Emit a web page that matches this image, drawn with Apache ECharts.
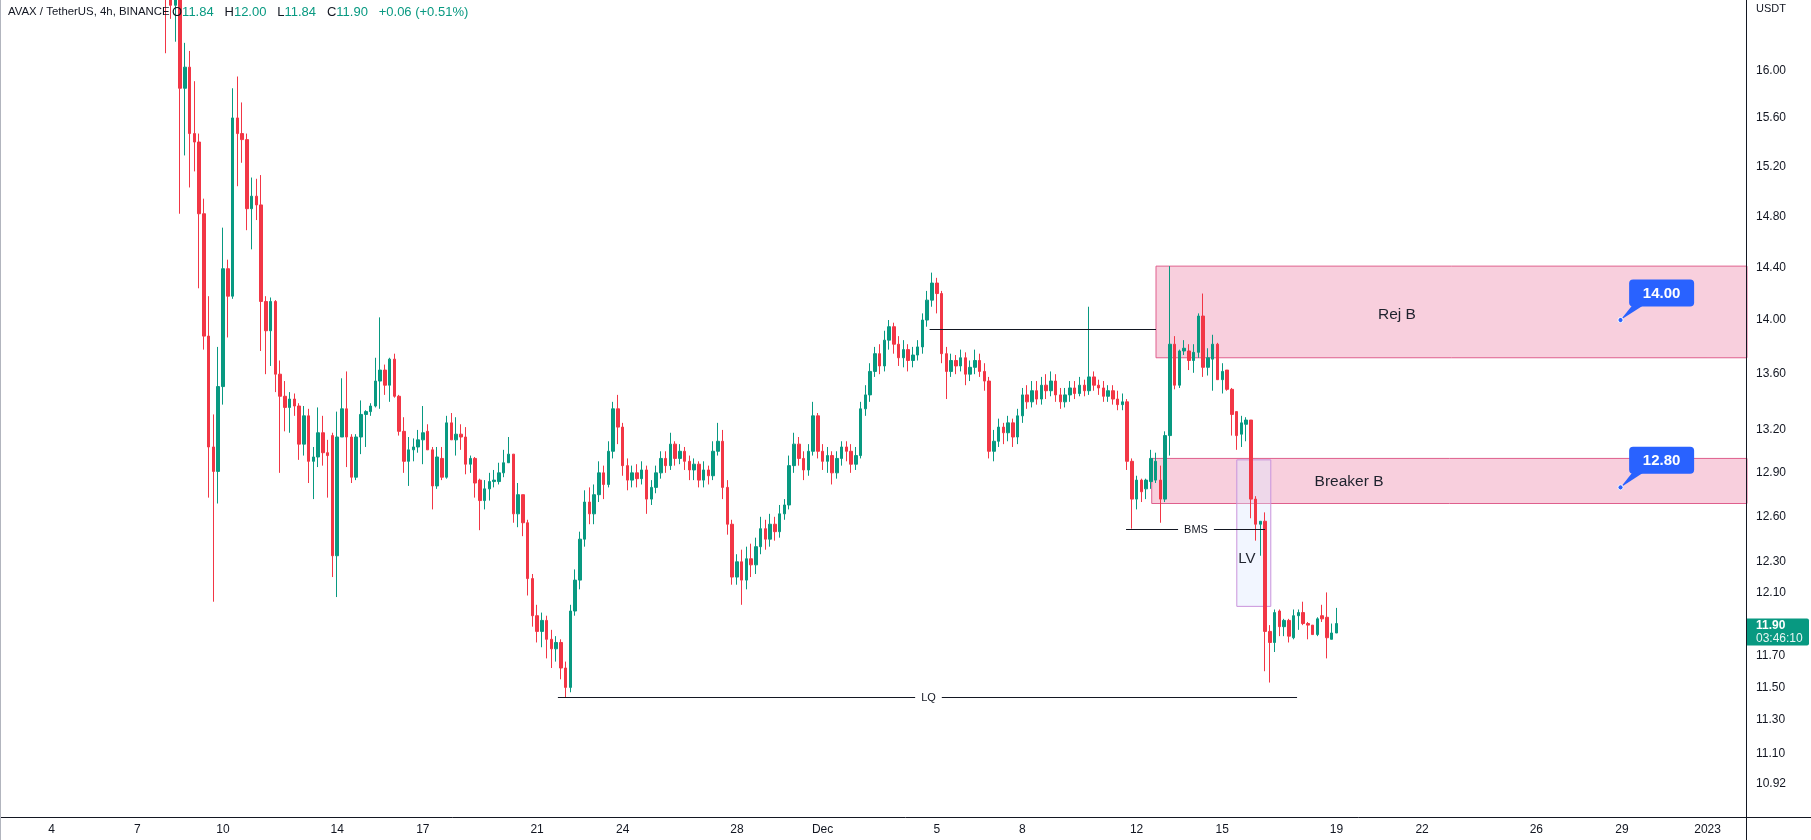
<!DOCTYPE html>
<html><head><meta charset="utf-8">
<script src="https://cdn.jsdelivr.net/npm/echarts@6/dist/echarts.min.js"></script>
<style>html,body{margin:0;padding:0;background:#fff}#c{width:1811px;height:840px}</style>
</head><body><div id="c"></div>
<script>
// ---------------- DATA ----------------
// time in days since Nov 1 2022 00:00; 4h candles
const firstBarDay = 7;            // Nov 8 00:00
const barStepDays = 1 / 6;        // 4 hours
const viewStartDay = 1.1891;
const viewEndDay = 62.38;
const viewLowPrice = 10.729;
const viewHighPrice = 16.617;

const opens = [
 17.30,16.75,16.57,16.80,15.85,16.03, 15.47,15.40,14.82,13.88,13.08,12.91, 13.51,14.39,14.18,15.60,15.47,15.42,
 14.86,14.96,14.89,14.14,13.92,14.14, 13.60,13.44,13.36,13.42,13.37,13.10, 13.30,12.98,13.01,13.18,13.04,13.16,
 12.34,13.15,13.35,13.15,12.87,13.15, 13.31,13.33,13.37,13.55,13.63,13.52, 13.71,13.44,13.19,12.98,13.06,13.08,
 13.13,13.19,13.06,12.81,13.00,12.87, 13.25,13.13,13.17,13.15,12.96,13.00, 12.85,12.71,12.79,12.84,12.84,12.90,
 12.97,13.03,12.62,12.75,12.56,
 12.19,11.95,11.85,11.92,11.80,11.74,11.78,11.62,11.50,11.98, 12.18,12.45,12.70,12.62,12.75,12.90,12.82,13.05,13.35,13.22,
 12.95,12.85,12.90,12.86,12.92,12.72,12.80,12.90,13.00,12.95, 13.10,13.00,13.05,12.98,12.92,12.96,12.85,12.92,12.88,13.05,
 13.12,12.80,12.55,12.20,12.30,12.18,12.32,12.28,12.40,12.52, 12.45,12.55,12.50,12.62,12.68,12.95,13.10,13.00,12.92,13.05,
 13.30,13.05,12.98,13.02,12.90,13.00,13.08,13.05,12.96,13.02, 13.35,13.45,13.62,13.75,13.66,13.85,13.95,13.82,13.72,13.78,
 13.70,13.74,13.80,14.00,14.15,14.28,14.20,13.75,13.62,13.70, 13.66,13.72,13.60,13.65,13.70,13.62,13.55,13.05,13.12,13.22,
 13.18,13.25,13.15,13.30,13.45,13.40,13.48,13.42,13.52,13.48, 13.55,13.45,13.40,13.45,13.50,13.46,13.52,13.48,13.58,13.52,
 13.50,13.44,13.48,13.42,13.38,13.40,12.98,12.72,
 12.85,12.79,12.84,12.85,12.85,12.72,13.16,13.82,13.52,13.77, 13.77,13.70,13.76,14.03,13.65,13.71,13.82,13.56,13.63,13.49,
 13.33,13.17,13.24,13.27,12.72,12.55,12.57,11.85,11.78,11.98, 11.88,11.92,11.81,11.95,11.97,11.90,11.89,11.83,11.95,11.94,
 11.80,11.84
];
const highs = [
 17.60,16.90,16.95,16.95,16.24,16.17, 15.91,15.47,14.94,14.18,13.31,13.80, 14.71,14.46,15.85,15.95,15.73,15.47,
 15.11,15.10,15.13,14.18,14.17,14.15, 13.70,13.55,13.47,13.46,13.39,13.37, 13.35,13.08,13.36,13.30,13.13,13.18,
 13.33,13.57,13.62,13.17,13.17,13.41, 13.34,13.39,13.72,14.02,13.67,13.72, 13.75,13.45,13.29,13.15,13.14,13.20,
 13.37,13.24,13.08,13.08,13.08,13.30, 13.32,13.29,13.24,13.22,13.02,13.01, 12.86,12.85,12.90,12.92,12.97,13.06,
 13.15,13.03,12.83,12.75,12.58,
 12.22,12.02,11.97,11.95,11.86,11.82,11.80,11.66,12.02,12.25, 12.50,12.78,12.80,12.82,12.98,12.95,13.12,13.40,13.45,13.25,
 13.00,12.95,12.96,12.98,12.95,12.85,12.95,13.05,13.05,13.18, 13.12,13.10,13.08,13.02,13.00,12.98,12.98,12.95,13.12,13.25,
 13.20,12.85,12.58,12.35,12.38,12.40,12.42,12.46,12.60,12.58, 12.62,12.60,12.68,12.72,13.02,13.18,13.15,13.05,13.10,13.40,
 13.32,13.10,13.08,13.05,13.05,13.12,13.12,13.10,13.08,13.40, 13.52,13.68,13.80,13.82,13.92,14.00,13.98,13.88,13.85,13.82,
 13.80,13.85,14.05,14.22,14.36,14.32,14.22,13.80,13.75,13.74, 13.78,13.76,13.70,13.78,13.75,13.68,13.58,13.20,13.28,13.25,
 13.30,13.28,13.35,13.50,13.52,13.55,13.55,13.58,13.60,13.62, 13.60,13.50,13.50,13.55,13.55,13.58,13.56,14.10,13.62,13.56,
 13.55,13.52,13.52,13.48,13.46,13.42,13.00,12.88,
 12.86,12.86,13.06,13.04,12.95,13.19,14.41,13.88,13.78,13.85, 13.82,13.82,14.05,14.20,13.79,13.89,13.83,13.68,13.63,13.50,
 13.33,13.30,13.29,13.27,12.74,12.57,12.63,11.89,11.99,11.99, 11.93,11.93,11.99,11.99,12.04,11.91,11.89,11.94,12.02,12.10,
 11.90,12.00
];
const lows = [
 16.15,16.45,16.25,14.82,15.29,15.03, 15.16,14.24,13.78,12.73,12.04,12.69, 13.38,13.87,14.16,15.04,15.23,14.69,
 14.54,14.77,13.77,13.60,13.66,13.47, 12.90,13.19,13.18,13.30,12.99,13.02, 12.83,12.72,12.94,12.95,12.73,12.20,
 12.07,13.15,12.94,12.83,12.85,13.03, 13.08,13.30,13.36,13.35,13.45,13.40, 13.43,13.16,12.90,12.81,12.98,13.04,
 12.96,13.06,12.65,12.79,12.85,12.86, 13.13,13.02,13.06,12.89,12.90,12.73, 12.51,12.65,12.71,12.80,12.82,12.87,
 12.97,12.56,12.53,12.47,12.08,
 11.88,11.78,11.75,11.68,11.62,11.66,11.55,11.44,11.47,11.95, 12.12,12.40,12.55,12.55,12.70,12.72,12.80,13.00,13.10,12.88,
 12.78,12.80,12.80,12.82,12.62,12.68,12.76,12.86,12.90,12.92, 12.95,12.96,12.92,12.85,12.85,12.80,12.80,12.82,12.85,13.02,
 12.72,12.48,12.15,12.15,12.02,12.12,12.20,12.22,12.35,12.38, 12.40,12.44,12.46,12.58,12.65,12.90,12.95,12.85,12.88,13.02,
 13.00,12.92,12.90,12.82,12.86,12.95,12.98,12.90,12.92,13.00, 13.30,13.40,13.58,13.60,13.62,13.78,13.75,13.66,13.65,13.62,
 13.65,13.70,13.75,13.95,14.10,14.05,13.68,13.42,13.58,13.60, 13.62,13.52,13.55,13.60,13.58,13.48,13.00,12.98,13.08,13.10,
 13.12,13.08,13.10,13.25,13.35,13.36,13.38,13.38,13.42,13.44, 13.40,13.35,13.36,13.40,13.42,13.44,13.44,13.45,13.48,13.45,
 13.40,13.40,13.38,13.34,13.34,12.92,12.52,12.65,
 12.70,12.72,12.79,12.83,12.56,12.70,13.02,13.49,13.50,13.74, 13.63,13.61,13.72,13.58,13.59,13.48,13.56,13.46,13.48,13.16,
 13.06,13.08,13.12,12.59,12.44,12.34,11.60,11.53,11.72,11.82, 11.82,11.78,11.80,11.86,11.89,11.80,11.83,11.82,11.91,11.68,
 11.80,11.84
];
const closes = [
 16.75,16.57,16.80,15.85,16.03,15.47, 15.40,14.82,13.88,13.08,12.91,13.51, 14.39,14.18,15.60,15.47,15.42,14.86,
 14.96,14.89,14.14,13.92,14.14,13.60, 13.44,13.36,13.42,13.37,13.10,13.30, 12.98,13.01,13.18,13.04,13.02,12.34,
 13.15,13.35,13.15,12.87,13.15,13.31, 13.33,13.37,13.55,13.63,13.52,13.71, 13.44,13.19,12.98,13.06,13.08,13.13,
 13.18,13.06,12.81,13.01,12.87,13.25, 13.13,13.17,13.15,12.96,13.00,12.83, 12.71,12.79,12.84,12.85,12.90,12.97,
 13.03,12.62,12.75,12.56,12.19,
 11.95,11.85,11.92,11.80,11.74,11.78,11.62,11.50,11.98,12.18, 12.45,12.70,12.62,12.75,12.90,12.82,13.05,13.35,13.22,12.95,
 12.85,12.90,12.86,12.92,12.72,12.80,12.90,13.00,12.95,13.10, 13.00,13.05,12.98,12.92,12.96,12.85,12.92,12.88,13.05,13.12,
 12.80,12.55,12.20,12.30,12.18,12.32,12.28,12.40,12.52,12.45, 12.55,12.50,12.62,12.68,12.95,13.10,13.00,12.92,13.05,13.30,
 13.05,12.98,13.02,12.90,13.00,13.08,13.05,12.96,13.02,13.35, 13.45,13.62,13.75,13.66,13.85,13.95,13.82,13.72,13.78,13.70,
 13.74,13.80,14.00,14.15,14.28,14.20,13.75,13.62,13.70,13.66, 13.72,13.60,13.65,13.70,13.62,13.55,13.05,13.12,13.22,13.18,
 13.25,13.15,13.30,13.45,13.40,13.48,13.42,13.52,13.48,13.55, 13.45,13.40,13.45,13.50,13.46,13.52,13.48,13.58,13.52,13.50,
 13.44,13.48,13.42,13.38,13.40,12.98,12.72,12.85,
 12.77,12.85,13.00,12.98,12.72,13.16,13.82,13.52,13.77,13.79, 13.70,13.76,14.03,13.65,13.72,13.82,13.56,13.62,13.49,13.31,
 13.16,13.25,13.27,12.72,12.55,12.57,11.85,11.78,11.97,11.88, 11.92,11.82,11.95,11.97,11.90,11.89,11.83,11.93,11.93,11.81,
 11.84,11.90
];

const priceTicks = [16.00,15.60,15.20,14.80,14.40,14.00,13.60,13.20,12.90,12.60,12.30,12.10,11.70,11.50,11.30,11.10,10.92];
const timeTickDays = [3,6,9,13,16,20,23,27,30,34,37,41,44,48,51,55,58,61];
const timeTickLabels = ['4','7','10','14','17','21','24','28','Dec','5','8','12','15','19','22','26','29','2023'];

// drawings (zones / levels)
const zoneNames   = ['Breaker B','Rej B','LV'];
const zoneFrom    = [41.53, 41.68, 44.51];
const zoneTo      = [62.38, 62.38, 45.70];
const zoneTop     = [13.00, 14.41, 12.99];
const zoneBottom  = [12.69, 13.72, 12.01];
const zoneLabelDay   = [48.44, 50.12, 44.86];
const zoneLabelPrice = [12.84, 14.04, 12.32];

const levelNames  = ['', 'BMS', 'LQ'];
const levelFrom   = [33.75, 40.63, 20.73];
const levelTo     = [41.68, 45.50, 46.62];
const levelPrice  = [13.93, 12.52, 11.44];
const levelLabelDay = [null, 43.08, 33.71];

const calloutDays   = [57.95, 57.95];
const calloutPrices = [14.00, 12.80];

const headerSymbol = 'AVAX / TetherUS, 4h, BINANCE';
const headerKeys   = ['O', 'H', 'L', 'C', ''];
const headerValues = ['11.84', '12.00', '11.84', '11.90', '+0.06 (+0.51%)'];
const countdown = '03:46:10';

// ---------------- CHART ----------------
const FONT = "'Liberation Sans', Arial, sans-serif";
const TXT = '#131722';
const UP = '#089981', DOWN = '#f23645';
const ln = Math.log;

const candles = opens.map((o, i) => [firstBarDay + i * barStepDays, ln(o), ln(closes[i]), ln(lows[i]), ln(highs[i])]);

const zoneStyles = [
  {color:'#f8cfdd', borderColor:'#df5f8d', borderWidth:1},
  {color:'#f8cfdd', borderColor:'#df5f8d', borderWidth:1},
  {color:'rgba(222,232,255,0.38)', borderColor:'#c993dc', borderWidth:1}
];
const zoneFontSizes = [15.5, 15.5, 15];

const chart = echarts.init(document.getElementById('c'));
const option = {
  animation:false,
  backgroundColor:'#ffffff',
  grid:{left:0, right:64, top:0, bottom:23},
  xAxis:{
    type:'value', min:viewStartDay, max:viewEndDay,
    axisLine:{show:false}, axisTick:{show:false}, splitLine:{show:false},
    axisLabel:{customValues:timeTickDays, color:TXT, fontSize:12, fontFamily:FONT, margin:7,
      formatter:v => timeTickLabels[timeTickDays.indexOf(Math.round(v))]}
  },
  yAxis:{
    type:'value', position:'right', min:ln(viewLowPrice), max:ln(viewHighPrice),
    axisLine:{show:false}, axisTick:{show:false}, splitLine:{show:false},
    axisLabel:{customValues:priceTicks.map(ln), color:TXT, fontSize:12, fontFamily:FONT, margin:9,
      formatter:v => Math.exp(v).toFixed(2)}
  },
  series:[
    {
      type:'candlestick', data:candles, encode:{x:0, y:[1,2,3,4]},
      barWidth:3, clip:true, z:3,
      itemStyle:{color:UP, color0:DOWN, borderColor:UP, borderColor0:DOWN, borderWidth:1},
      markArea:{silent:true, z:1,
        data: zoneNames.map((n, i) => [
          {xAxis:zoneFrom[i], yAxis:ln(zoneTop[i]), itemStyle:zoneStyles[i]},
          {xAxis:zoneTo[i], yAxis:ln(zoneBottom[i])}
        ])}
    },
    { // zone labels
      type:'custom', z:6, silent:true,
      data: zoneNames.map((n, i) => [zoneLabelDay[i], ln(zoneLabelPrice[i])]),
      renderItem:(params, api) => {
        const p = api.coord([api.value(0), api.value(1)]);
        return {type:'text', x:p[0], y:p[1], style:{text:zoneNames[params.dataIndex], fill:'#1e222d',
          font:zoneFontSizes[params.dataIndex] + 'px ' + FONT, align:'center', verticalAlign:'middle'}};
      }
    },
    { // horizontal levels
      type:'custom', z:5, silent:true,
      data: levelPrice.map((p, i) => [levelFrom[i], ln(p)]),
      renderItem:(params, api) => {
        const i = params.dataIndex;
        const y = ln(levelPrice[i]);
        const a = api.coord([levelFrom[i], y]), b = api.coord([levelTo[i], y]);
        const yy = Math.round(a[1]) + 0.5;
        const ch = [{type:'line', shape:{x1:a[0], y1:yy, x2:b[0], y2:yy}, style:{stroke:TXT, lineWidth:1}}];
        if (levelNames[i]) {
          const c = api.coord([levelLabelDay[i], y]);
          ch.push({type:'text', x:c[0], y:yy, style:{text:levelNames[i], fill:TXT, font:'11px ' + FONT,
            align:'center', verticalAlign:'middle', backgroundColor:'#ffffff', padding:[1,6]}});
        }
        return {type:'group', children:ch};
      }
    },
    { // price callouts
      type:'custom', z:7, silent:true,
      data: calloutPrices.map((p, i) => [calloutDays[i], ln(p)]),
      renderItem:(params, api) => {
        const i = params.dataIndex;
        const p = api.coord([api.value(0), api.value(1)]);
        const bx = p[0] + 8.6, by = p[1] - 40.6, w = 65, h = 27;
        return {type:'group', children:[
          {type:'polygon', shape:{points:[[bx + 3, by + h - 1], [bx + 14, by + h - 1], [p[0], p[1]]]}, style:{fill:'#2962ff'}},
          {type:'rect', shape:{x:bx, y:by, width:w, height:h, r:4}, style:{fill:'#2962ff'}},
          {type:'text', x:bx + w / 2, y:by + h / 2 + 1, style:{text:calloutPrices[i].toFixed(2), fill:'#ffffff',
            font:'bold 15px ' + FONT, align:'center', verticalAlign:'middle'}},
          {type:'circle', shape:{cx:p[0], cy:p[1], r:2.6}, style:{fill:'#2962ff', stroke:'#ffffff', lineWidth:1}}
        ]};
      }
    }
  ]
};
chart.setOption(option);

// frame, header, current price tag
const lastClose = closes[closes.length - 1];
const yp = chart.convertToPixel({yAxisIndex:0}, ln(lastClose));
const axX = chart.convertToPixel({xAxisIndex:0}, viewEndDay);
const axY = chart.convertToPixel({yAxisIndex:0}, ln(viewLowPrice));
const headerRich = headerKeys.map((k, i) => (k ? '{k|' + k + '}' : '') + '{v|' + headerValues[i] + '}').join('{k|   }');
chart.setOption({graphic:[
  {type:'line', shape:{x1:Math.round(axX) - 0.5, y1:0, x2:Math.round(axX) - 0.5, y2:840}, style:{stroke:TXT, lineWidth:1}, z:10},
  {type:'line', shape:{x1:0, y1:Math.round(axY) + 0.5, x2:1811, y2:Math.round(axY) + 0.5}, style:{stroke:TXT, lineWidth:1}, z:10},
  {type:'line', shape:{x1:0.5, y1:0, x2:0.5, y2:840}, style:{stroke:'#b2b5be', lineWidth:1}, z:10},
  {type:'text', x:axX + 9, y:9, style:{text:'USDT', fill:TXT, font:'11px ' + FONT, verticalAlign:'middle'}, z:10},
  {type:'text', x:8, y:12, z:10, style:{text:headerSymbol, fill:TXT, font:'11.4px ' + FONT, verticalAlign:'middle'}},
  {type:'text', x:172, y:12, z:10, style:{text:headerRich, verticalAlign:'middle', font:'13px ' + FONT,
    rich:{k:{fill:TXT, font:'13px ' + FONT}, v:{fill:UP, font:'13px ' + FONT}}}},
  {type:'group', x:axX, y:yp - 5, z:11, children:[
    {type:'rect', shape:{x:0, y:0, width:62, height:27, r:[0,2,2,0]}, style:{fill:UP}},
    {type:'text', x:9, y:7.5, style:{text:lastClose.toFixed(2), fill:'#ffffff', font:'bold 12px ' + FONT, verticalAlign:'middle'}},
    {type:'text', x:9, y:20, style:{text:countdown, fill:'rgba(255,255,255,0.9)', font:'12px ' + FONT, verticalAlign:'middle'}}
  ]}
]});
</script></body></html>
